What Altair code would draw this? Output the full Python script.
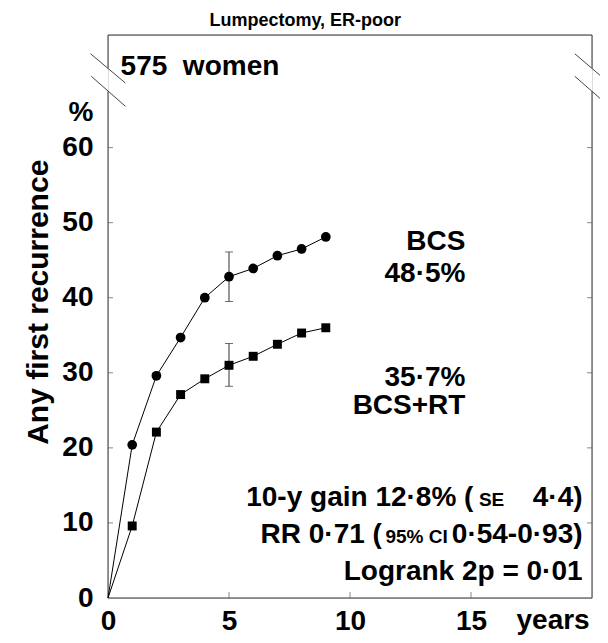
import altair as alt
import pandas as pd

FONT = "Liberation Sans"

# ---- data ----
years = [0, 1, 2, 3, 4, 5, 6, 7, 8, 9]
bcs = [0, 20.4, 29.6, 34.7, 40.0, 42.8, 43.9, 45.6, 46.5, 48.1]
bcs_rt = [0, 9.6, 22.1, 27.1, 29.2, 31.0, 32.2, 33.8, 35.3, 36.0]
err_year = [5, 5]
err_group = ["BCS", "BCS+RT"]
err_lo = [39.5, 28.2]
err_hi = [46.1, 33.9]

y_ticks = [0, 10, 20, 30, 40, 50, 60]
x_ticks = [0, 5, 10, 15]

# frame pieces (with axis break) and break slashes, in data units
frame_x = [0, 0, 0, 0, 20, 20]
frame_x2 = [20, 20, 0, 0, 20, 20]
frame_y = [0, 75, 0, 70.6, 0, 70.6]
frame_y2 = [0, 75, 67.5, 75, 67.5, 75]
slash_x = [-0.72, -0.69, 19.29, 19.29]
slash_x2 = [0.72, 0.72, 20.67, 20.67]
slash_y = [72.5, 69.5, 72.5, 69.5]
slash_y2 = [68.6, 65.5, 68.7, 65.6]

# text annotations
big_texts = ["BCS", "48·5%", "35·7%", "BCS+RT", "4·4)", "10-y gain 12·8% (",
             "0·54-0·93)", "RR 0·71 (", "Logrank 2p = 0·01"]
big_x = [14.77, 14.77, 14.77, 14.77, 19.61, 15.1, 19.61, 11.32, 19.61]
big_y = [46.4, 42.13, 28.3, 24.57, 12.27, 12.27, 7.33, 7.33, 2.4]
small_texts = ["SE", "95% CI"]
small_x = [15.85, 12.75]
small_y = [12.27, 7.33]

XS = alt.Scale(domain=[0, 20], nice=False, zero=False)
YS = alt.Scale(domain=[0, 75], nice=False, zero=False)
XAX = alt.Axis(values=x_ticks, title=None, domain=False, ticks=False, grid=False,
               labelFont=FONT, labelFontSize=28, labelFontWeight="bold", labelColor="black",
               labelPadding=9, labelFlush=False, labelOverlap=False)
YAX = alt.Axis(values=y_ticks, title=None, domain=False, ticks=False, grid=False,
               labelFont=FONT, labelFontSize=28, labelFontWeight="bold", labelColor="black",
               labelPadding=15, labelFlush=False, labelOverlap=False)


def X(f):
    return alt.X(f, type="quantitative", scale=XS, axis=XAX)


def Y(f):
    return alt.Y(f, type="quantitative", scale=YS, axis=YAX)


series = pd.DataFrame({
    "year": years * 2,
    "pct": bcs + bcs_rt,
    "group": ["BCS"] * len(years) + ["BCS+RT"] * len(years),
})
pts = series[series["year"] > 0]

lines = alt.Chart(series).mark_line(color="black", strokeWidth=1).encode(
    x=X("year"), y=Y("pct"), detail="group:N")

circ = alt.Chart(pts[pts["group"] == "BCS"]).mark_point(
    shape="circle", filled=True, color="black", size=95, opacity=1).encode(x=X("year"), y=Y("pct"))
sq = alt.Chart(pts[pts["group"] == "BCS+RT"]).mark_point(
    shape="square", filled=True, color="black", size=80, opacity=1).encode(x=X("year"), y=Y("pct"))

err = pd.DataFrame({"year": err_year, "lo": err_lo, "hi": err_hi, "group": err_group})
err_rule = alt.Chart(err).mark_rule(color="#333", strokeWidth=1).encode(
    x=X("year"), y=Y("lo"), y2="hi")
cap_lo = alt.Chart(err).mark_tick(orient="horizontal", size=8, thickness=1, color="#333").encode(
    x=X("year"), y=Y("lo"))
cap_hi = alt.Chart(err).mark_tick(orient="horizontal", size=8, thickness=1, color="#333").encode(
    x=X("year"), y=Y("hi"))

frame = pd.DataFrame({"x": frame_x, "x2": frame_x2, "y": frame_y, "y2": frame_y2})
frame_rules = alt.Chart(frame).mark_rule(color="#333", strokeWidth=1).encode(
    x=X("x"), x2="x2", y=Y("y"), y2="y2")
slashes = pd.DataFrame({"x": slash_x, "x2": slash_x2, "y": slash_y, "y2": slash_y2})
slash_rules = alt.Chart(slashes).mark_rule(color="#444", strokeWidth=1).encode(
    x=X("x"), x2="x2", y=Y("y"), y2="y2")

# inward ticks
yt = pd.DataFrame({"v": y_ticks[1:]})
ytl = alt.Chart(yt).mark_tick(orient="horizontal", size=5, thickness=1, color="#555", xOffset=2.5).encode(
    x=alt.datum(0, scale=XS), y=Y("v"))
ytr = alt.Chart(yt).mark_tick(orient="horizontal", size=5, thickness=1, color="#555", xOffset=-2.5).encode(
    x=alt.datum(20, scale=XS), y=Y("v"))
xt = pd.DataFrame({"v": x_ticks[1:]})
xtb = alt.Chart(xt).mark_tick(orient="vertical", size=6, thickness=1, color="#555", yOffset=-3).encode(
    x=X("v"), y=alt.datum(0, scale=YS))

big = pd.DataFrame({"t": big_texts, "x": big_x, "y": big_y})
big_right = alt.Chart(big).mark_text(align="right", baseline="alphabetic", font=FONT,
                                     fontSize=28, fontWeight="bold", color="black").encode(
    x=X("x"), y=Y("y"), text="t")
small = pd.DataFrame({"t": small_texts, "x": small_x, "y": small_y})
small_txt = alt.Chart(small).mark_text(align="center", baseline="alphabetic", font=FONT,
                                       fontSize=19, fontWeight="bold", color="black").encode(
    x=X("x"), y=Y("y"), text="t")

misc_texts = ["575\u00a0\u00a0women", "Lumpectomy, ER-poor", "%", "years"]
misc_x = [0.52, 8.15, -0.6, 16.88]
misc_y = [69.7, 76.2, 63.5, -4.13]
misc_align = ["left", "center", "right", "left"]
misc_size = [28, 18, 28, 28]
misc = pd.DataFrame({"t": misc_texts, "x": misc_x, "y": misc_y})
misc_layers = []
for i in range(len(misc)):
    misc_layers.append(
        alt.Chart(misc.iloc[[i]]).mark_text(align=misc_align[i], baseline="alphabetic", font=FONT,
                                            fontSize=misc_size[i], fontWeight="bold", color="black").encode(
            x=X("x"), y=Y("y"), text="t"))

ytitle = alt.Chart(pd.DataFrame({"t": ["Any first recurrence"], "x": [-2.87], "y": [39.4]})).mark_text(
    angle=270, align="center", baseline="middle", font=FONT, fontSize=30, fontWeight="bold",
    color="black").encode(x=X("x"), y=Y("y"), text="t")

chart = alt.layer(
    frame_rules, slash_rules, ytl, ytr, xtb, lines, err_rule, cap_lo, cap_hi, circ, sq,
    big_right, small_txt, ytitle, *misc_layers
).properties(
    width=484, height=563,
    autosize=alt.AutoSizeParams(type="none"),
    padding={"left": 100, "top": 27, "right": 8, "bottom": 37},
).configure_view(stroke=None).configure(background="white")

chart.save("out.html", embed_options={"renderer": "svg", "actions": False})
